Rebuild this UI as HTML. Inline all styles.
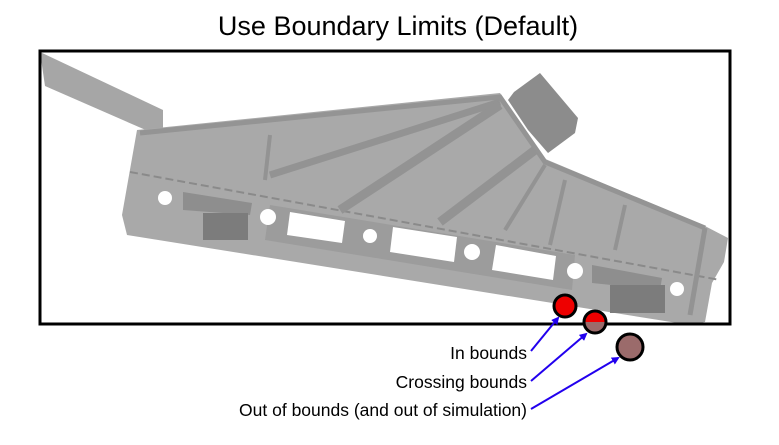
<!DOCTYPE html>
<html><head><style>
body{margin:0;background:#fff;width:779px;height:440px;overflow:hidden}
</style></head><body>
<svg width="779" height="440" viewBox="0 0 779 440" xmlns="http://www.w3.org/2000/svg" font-family="Liberation Sans, sans-serif">
<defs><marker id="ar" markerWidth="8" markerHeight="8" refX="6" refY="4" orient="auto" markerUnits="userSpaceOnUse"><path d="M0,0 L8,4 L0,8 z" fill="#2200ee"/></marker></defs>
<text x="398" y="35" font-size="27" text-anchor="middle" fill="#000">Use Boundary Limits (Default)</text>
<polygon points="40,52 163,110 163,128 148,131 45,86" fill="#a6a6a6"/>
<polygon points="540,73 578,118 575,133 548,153 528,130 508,100 514,92" fill="#8c8c8c"/>
<polygon points="137,130 500,93 543,158 703,225 728,238 724,262 712,283 705,322 690,325 127,235 122,215" fill="#a9a9a9"/>
<polyline points="140,133 500,97 545,162 705,228" fill="none" stroke="#949494" stroke-width="5"/>
<line x1="130" y1="172" x2="720" y2="280" stroke="#8a8a8a" stroke-width="2" stroke-dasharray="8,4"/>
<line x1="270" y1="175" x2="500" y2="102" stroke="#939393" stroke-width="7"/>
<line x1="340" y1="210" x2="500" y2="105" stroke="#939393" stroke-width="9"/>
<line x1="440" y1="222" x2="535" y2="150" stroke="#939393" stroke-width="9"/>
<line x1="270" y1="135" x2="265" y2="180" stroke="#939393" stroke-width="4"/>
<line x1="545" y1="165" x2="505" y2="230" stroke="#939393" stroke-width="4"/>
<line x1="565" y1="180" x2="550" y2="245" stroke="#939393" stroke-width="4"/>
<line x1="625" y1="205" x2="615" y2="250" stroke="#939393" stroke-width="4"/>
<line x1="705" y1="228" x2="690" y2="315" stroke="#939393" stroke-width="5"/>
<polygon points="270,205 575,255 572,290 265,240" fill="#9c9c9c"/>
<polygon points="183,192 252,203 250,215 183,210" fill="#8e8e8e"/>
<polygon points="592,265 662,278 660,290 592,283" fill="#8e8e8e"/>
<g fill="#7c7c7c"><rect x="203" y="213" width="45" height="27"/><rect x="610" y="285" width="55" height="28"/></g>
<g fill="#fff">
<circle cx="165" cy="198" r="7"/><circle cx="268" cy="217" r="8"/><circle cx="370" cy="236" r="7"/><circle cx="472" cy="252" r="8"/><circle cx="575" cy="271" r="8"/><circle cx="677" cy="289" r="7"/>
<polygon points="290,212 345,221 342,243 287,235"/><polygon points="393,227 457,237 454,262 390,252"/><polygon points="496,245 556,256 553,280 492,270"/>
</g>
<rect x="40" y="51" width="690" height="273" fill="none" stroke="#000" stroke-width="3"/>
<circle cx="565" cy="306" r="11" fill="#ee0000" stroke="#000" stroke-width="3"/>
<clipPath id="c"><circle cx="595" cy="322" r="11"/></clipPath>
<g clip-path="url(#c)"><rect x="580" y="308" width="30" height="14" fill="#ee0000"/><rect x="580" y="322" width="30" height="14" fill="#9b6b6b"/></g>
<circle cx="595" cy="322" r="11" fill="none" stroke="#000" stroke-width="3"/>
<circle cx="630" cy="347" r="13" fill="#9b6b6b" stroke="#000" stroke-width="3"/>
<g stroke="#2200ee" stroke-width="2" marker-end="url(#ar)">
<line x1="531" y1="351" x2="558" y2="318"/>
<line x1="531" y1="381" x2="586" y2="334"/>
<line x1="531" y1="409" x2="618" y2="358"/>
</g>
<g font-size="17.5" text-anchor="end" fill="#000">
<text x="527" y="359">In bounds</text>
<text x="527" y="388">Crossing bounds</text>
<text x="527" y="416">Out of bounds (and out of simulation)</text>
</g>
</svg>
</body></html>
